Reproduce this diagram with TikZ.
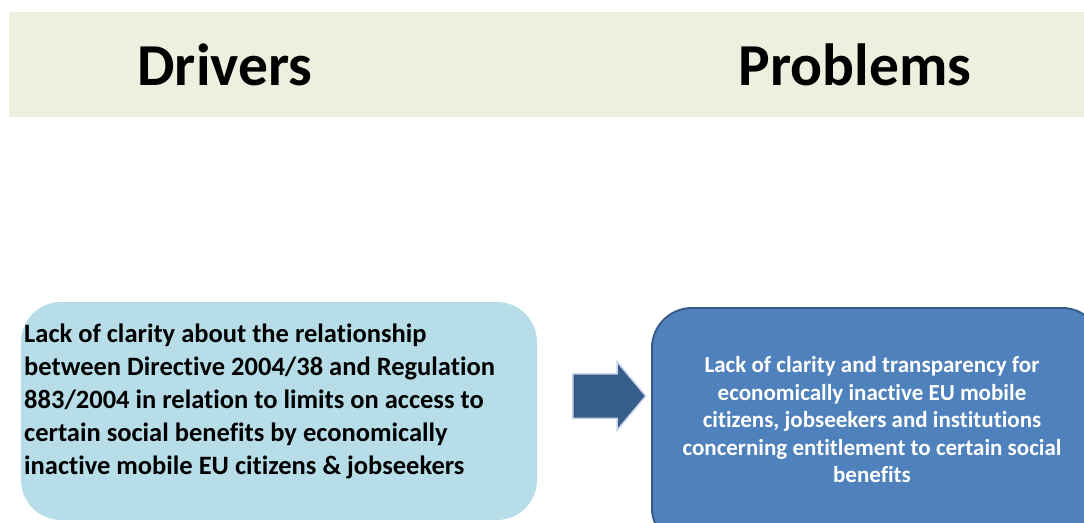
\documentclass[tikz,border=0pt]{standalone}
\usepackage{fontspec}
\setmainfont{Carlito}[Ligatures=NoCommon]
\usepackage{tikz}
\usetikzlibrary{shapes.arrows}

\definecolor{bandgreen}{RGB}{235,241,222}
\definecolor{drvblue}{RGB}{183,222,232}
\definecolor{prbblue}{RGB}{79,129,189}
\definecolor{prbedge}{RGB}{56,93,138}
\definecolor{arrblue}{RGB}{55,93,140}
\definecolor{glow}{RGB}{200,213,232}

\begin{document}
\begin{tikzpicture}[x=1pt, y=-1pt,
    hdr/.style={font=\fontsize{59.5}{62}\selectfont\bfseries, anchor=base, inner sep=0},
    drvbox/.style={rectangle, rounded corners=40pt, fill=drvblue, inner sep=0},
    prbbox/.style={rectangle, rounded corners=40pt, fill=prbblue, draw=prbedge, line width=2pt, inner sep=0},
    blockarrow/.style={single arrow, fill=arrblue, draw=glow, line width=1.5pt,
      inner xsep=0, inner ysep=21.5pt, minimum height=73pt,
      single arrow head extend=12pt, single arrow tip angle=100}]
      \useasboundingbox (0,0) rectangle (1084,522);
      \clip (0,0) rectangle (1084,522);

      \fill[bandgreen] (9,12) rectangle (1084,117);
      \node[hdr] (drivers) at (225,85) {Drivers};
      \node[hdr] (problems) at (855,85) {Problems};

      \node[drvbox, minimum width=516pt, minimum height=218pt] (drv) at (279,411) {};
      \node[anchor=west, align=left, inner sep=0,
        font=\fontsize{26.5}{33}\selectfont\bfseries] (drvtext) at (24,401)
        {Lack of clarity about the relationship\\
         between Directive 2004/38 and Regulation\\
         883/2004 in relation to limits on access to\\
         certain social benefits by economically\\
         inactive mobile EU citizens \& jobseekers};

      \node[prbbox, minimum width=450pt, minimum height=240pt] (prb) at (877,428) {};
      \node[align=center, inner sep=0, text=white,
        font=\fontsize{23}{27.5}\selectfont\bfseries] (prbtext) at (872,420)
        {Lack of clarity and transparency for\\
         economically inactive EU mobile\\
         citizens, jobseekers and institutions\\
         concerning entitlement to certain social\\
         benefits};

      \node[blockarrow, anchor=tail] (arr) at (572,396) {};
\end{tikzpicture}
\end{document}
